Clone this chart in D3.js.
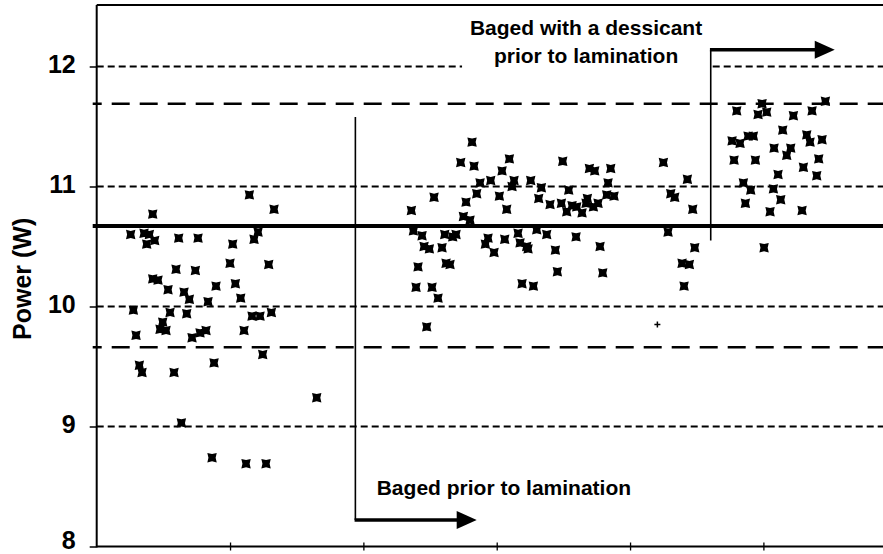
<!DOCTYPE html>
<html>
<head>
<meta charset="utf-8">
<script src="https://cdn.jsdelivr.net/npm/d3@7/dist/d3.min.js"></script>
<style>
  html, body { margin: 0; padding: 0; background: #fff; }
  svg { display: block; }
  text { font-family: "Liberation Sans", Arial, Helvetica, sans-serif; font-weight: bold; fill: #000; }
</style>
</head>
<body>
<svg id="chart" width="883" height="554"></svg>
<script>
// ---------------- data ----------------
const yTicks = [8, 9, 10, 11, 12];
const gridValues = [9, 10, 11, 12];
const xTicks = [20, 40, 60, 80, 100];
const meanPower = 10.67;
const limitLines = [11.69, 9.66];

// modules not bagged (before change)
const notBagged = [
  [5.1,10.60],[7.1,10.61],[7.9,10.60],[7.5,10.52],[8.7,10.55],[8.4,10.77],[12.3,10.57],[15.2,10.57],
  [20.4,10.52],[24.2,10.62],[23.6,10.56],[22.9,10.93],[26.6,10.81],[11.9,10.31],[14.8,10.30],[20.0,10.36],
  [25.8,10.35],[8.4,10.23],[9.2,10.22],[10.7,10.14],[13.1,10.12],[13.9,10.06],[17.9,10.17],[20.8,10.19],
  [21.6,10.07],[16.7,10.04],[5.5,9.97],[11.0,9.95],[13.5,9.94],[23.3,9.92],[24.5,9.92],[26.2,9.95],
  [9.9,9.87],[9.5,9.81],[10.4,9.80],[5.9,9.76],[14.3,9.74],[15.5,9.78],[16.4,9.80],[22.1,9.80],
  [24.9,9.60],[6.4,9.51],[6.8,9.45],[11.6,9.45],[17.6,9.53],[33.0,9.24],[12.7,9.03],[17.3,8.74],
  [22.4,8.69],[25.4,8.69]
];
// bagged prior to lamination
const baggedPrior = [
  [56.3,11.37],[54.6,11.20],[56.6,11.17],[61.9,11.23],[69.9,11.21],[73.9,11.15],[74.7,11.13],[77.1,11.15],
  [60.8,11.13],[59.1,11.05],[57.5,11.03],[62.6,11.05],[62.3,11.00],[65.1,11.05],[66.7,10.99],[70.8,10.97],
  [76.7,11.03],[57.0,10.94],[60.4,10.92],[50.6,10.91],[66.3,10.90],[68.0,10.85],[69.7,10.86],[55.4,10.87],
  [71.3,10.84],[72.0,10.83],[72.8,10.78],[70.5,10.79],[73.6,10.90],[73.4,10.86],[74.5,10.83],[75.2,10.86],
  [76.5,10.93],[77.6,10.92],[61.5,10.81],[47.2,10.80],[55.0,10.75],[56.0,10.72],[47.5,10.63],[48.8,10.59],
  [49.1,10.50],[49.9,10.48],[51.8,10.49],[52.2,10.60],[53.9,10.60],[53.4,10.58],[52.4,10.36],[53.0,10.35],
  [48.2,10.33],[47.9,10.16],[50.3,10.16],[51.2,10.07],[49.5,9.83],[58.7,10.57],[58.3,10.52],[59.6,10.45],
  [61.2,10.56],[63.2,10.61],[63.5,10.53],[64.5,10.50],[64.7,10.48],[66.0,10.64],[67.5,10.60],[68.8,10.47],
  [63.8,10.19],[65.5,10.17],[69.1,10.29],[71.9,10.58],[75.5,10.50],[75.9,10.28],
  [85.0,11.20],[88.6,11.06],[86.1,10.94],[86.7,10.91],[89.4,10.81],[85.7,10.62],[89.7,10.49],[87.8,10.36],
  [88.9,10.35],[88.1,10.17]
];
// bagged with a dessicant prior to lamination
const baggedDessicant = [
  [96.0,11.63],[99.8,11.69],[99.2,11.60],[100.5,11.62],[104.5,11.59],[107.3,11.63],[109.3,11.71],[102.9,11.47],
  [95.3,11.38],[96.5,11.36],[97.7,11.42],[98.5,11.42],[106.5,11.43],[107.0,11.37],[108.8,11.39],[101.6,11.32],
  [104.1,11.32],[103.5,11.26],[95.6,11.22],[98.8,11.22],[108.3,11.23],[106.0,11.16],[102.2,11.10],[108.0,11.09],
  [97.0,11.03],[98.1,10.97],[101.5,10.98],[102.6,10.89],[97.3,10.86],[101.0,10.79],[105.8,10.80],[100.1,10.49]
];
const plusPoints = [[84.1, 9.85]];

// annotation anchors (data units)
const changeA = { x: 38.8, yTop: 11.58, yBottom: 8.22, arrowTo: 57.0 };
const changeB = { x: 92.1, yTop: 12.14, yBottom: 10.55, arrowTo: 110.7 };
const labelA = "Baged prior to lamination";
const labelB = ["Baged with a dessicant", "prior to lamination"];

// ---------------- drawing ----------------
const svg = d3.select("#chart");
const x = d3.scaleLinear().domain([0, 118]).range([96.7, 883.4]);
const y = d3.scaleLinear().domain([8, 12.5]).range([546.5, 6.5]);

// grid lines (short dashes)
svg.append("g").selectAll("line").data(gridValues).join("line")
  .attr("x1", x(0)).attr("x2", x(118))
  .attr("y1", d => y(d)).attr("y2", d => y(d))
  .attr("stroke", "#000").attr("stroke-width", 2)
  .attr("stroke-dasharray", "7,4");

// limit lines (long dashes)
svg.append("g").selectAll("line").data(limitLines).join("line")
  .attr("x1", x(0) - 4).attr("x2", x(118))
  .attr("y1", d => y(d)).attr("y2", d => y(d))
  .attr("stroke", "#000").attr("stroke-width", 2.5)
  .attr("stroke-dasharray", "18,10")
  .attr("stroke-dashoffset", 9);

// mean line (solid, thick)
svg.append("line")
  .attr("x1", x(0) - 4).attr("x2", x(118))
  .attr("y1", y(meanPower)).attr("y2", y(meanPower))
  .attr("stroke", "#000").attr("stroke-width", 4);

// text box for the upper annotation (hides grid under it)
svg.append("rect")
  .attr("x", x(54.8)).attr("y", 9)
  .attr("width", x(92.0) - x(54.8)).attr("height", 66)
  .attr("fill", "#fff");

// axes
const yAxis = d3.axisLeft(y).tickValues(yTicks).tickSize(7).tickFormat(d3.format("d")).tickPadding(14);
const gy = svg.append("g").attr("transform", `translate(${x(0)},0)`).call(yAxis);
gy.select(".domain").remove();
gy.selectAll(".tick line").attr("stroke", "#000").attr("stroke-width", 1.5);
gy.selectAll(".tick text")
  .attr("font-size", 25).attr("font-weight", "bold")
  .attr("font-family", '"Liberation Sans", Arial, sans-serif')
  .attr("dy", d => d === 8 ? "0.08em" : "0.24em");

svg.append("line")
  .attr("x1", x(0)).attr("x2", x(0))
  .attr("y1", y(12.5) - 1.5).attr("y2", y(8) + 1)
  .attr("stroke", "#000").attr("stroke-width", 2);

const xAxis = d3.axisBottom(x).tickValues(xTicks).tickSize(4).tickFormat("");
const gx = svg.append("g").attr("transform", `translate(0,${y(8)})`).call(xAxis);
gx.select(".domain").remove();
gx.selectAll(".tick line").attr("stroke", "#000").attr("stroke-width", 1.3).attr("y1", -4);
svg.append("line")
  .attr("x1", x(0)).attr("x2", x(118))
  .attr("y1", y(8)).attr("y2", y(8))
  .attr("stroke", "#000").attr("stroke-width", 2);

// top border
svg.append("line")
  .attr("x1", x(0)).attr("x2", x(118))
  .attr("y1", y(12.5) - 1.5).attr("y2", y(12.5) - 1.5)
  .attr("stroke", "#000").attr("stroke-width", 2);

// y label
svg.append("text")
  .attr("transform", `translate(31,${y(10.23)}) rotate(-90)`)
  .attr("text-anchor", "middle")
  .attr("font-size", 25)
  .text("Power (W)");

// markers
const starPath = "M-4.7,-4.7 L0,-3.6 L4.7,-4.7 L3.6,0 L4.7,4.7 L0,3.6 L-4.7,4.7 L-3.6,0 Z";
const allPoints = notBagged.concat(baggedPrior, baggedDessicant);
svg.append("g").selectAll("path").data(allPoints).join("path")
  .attr("transform", d => `translate(${x(d[0])},${y(d[1])})`)
  .attr("d", starPath)
  .attr("fill", "#000");

svg.append("g").selectAll("path").data(plusPoints).join("path")
  .attr("transform", d => `translate(${x(d[0])},${y(d[1])})`)
  .attr("d", "M-3,0 L3,0 M0,-3 L0,3")
  .attr("stroke", "#000").attr("stroke-width", 1.5);

// annotation arrows
function arrow(x0, x1, yy) {
  const g = svg.append("g");
  g.append("line").attr("x1", x0).attr("x2", x1 - 18).attr("y1", yy).attr("y2", yy)
    .attr("stroke", "#000").attr("stroke-width", 3.5);
  g.append("path")
    .attr("d", `M${x1 - 20},${yy - 9} L${x1},${yy} L${x1 - 20},${yy + 9} Z`)
    .attr("fill", "#000");
}
svg.append("line")
  .attr("x1", x(changeA.x)).attr("x2", x(changeA.x))
  .attr("y1", y(changeA.yTop)).attr("y2", y(changeA.yBottom))
  .attr("stroke", "#000").attr("stroke-width", 1.6);
arrow(x(changeA.x) - 0.8, x(changeA.arrowTo), y(changeA.yBottom));

svg.append("line")
  .attr("x1", x(changeB.x)).attr("x2", x(changeB.x))
  .attr("y1", y(changeB.yTop)).attr("y2", y(changeB.yBottom))
  .attr("stroke", "#000").attr("stroke-width", 1.6);
arrow(x(changeB.x) - 0.8, x(changeB.arrowTo), y(changeB.yTop));

// annotation texts
svg.append("text")
  .attr("x", x(42.0)).attr("y", y(8.43))
  .attr("font-size", 21)
  .text(labelA);

svg.append("g").selectAll("text").data(labelB).join("text")
  .attr("x", x(73.4))
  .attr("y", (d, i) => i === 0 ? y(12.26) : y(12.03))
  .attr("text-anchor", "middle")
  .attr("font-size", 21)
  .text(d => d);
</script>
</body>
</html>
